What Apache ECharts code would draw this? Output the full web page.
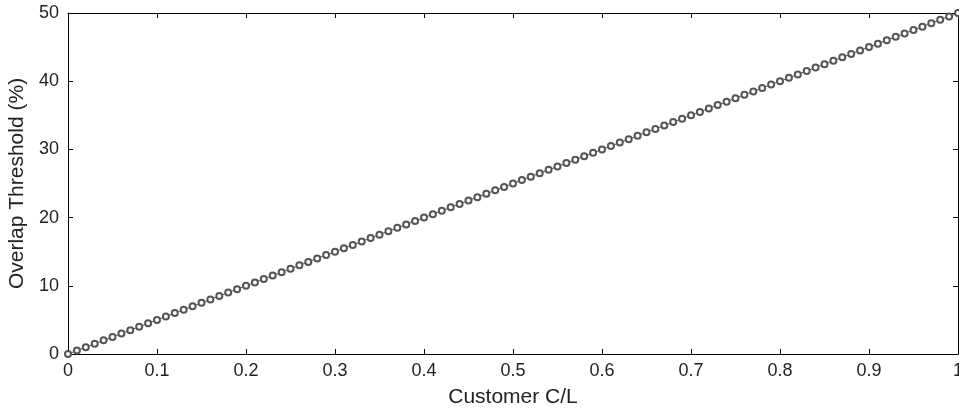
<!DOCTYPE html>
<html>
<head>
<meta charset="utf-8">
<script src="https://cdn.jsdelivr.net/npm/echarts@6/dist/echarts.min.js"></script>
<style>
  html, body { margin: 0; padding: 0; background: #fff; }
  #chart { width: 959px; height: 414px; }
</style>
</head>
<body>
<div id="chart"></div>
<script>
// customer C/L values (x)
const customerCL = [
  0.00, 0.01, 0.02, 0.03, 0.04, 0.05, 0.06, 0.07, 0.08, 0.09,
  0.10, 0.11, 0.12, 0.13, 0.14, 0.15, 0.16, 0.17, 0.18, 0.19,
  0.20, 0.21, 0.22, 0.23, 0.24, 0.25, 0.26, 0.27, 0.28, 0.29,
  0.30, 0.31, 0.32, 0.33, 0.34, 0.35, 0.36, 0.37, 0.38, 0.39,
  0.40, 0.41, 0.42, 0.43, 0.44, 0.45, 0.46, 0.47, 0.48, 0.49,
  0.50, 0.51, 0.52, 0.53, 0.54, 0.55, 0.56, 0.57, 0.58, 0.59,
  0.60, 0.61, 0.62, 0.63, 0.64, 0.65, 0.66, 0.67, 0.68, 0.69,
  0.70, 0.71, 0.72, 0.73, 0.74, 0.75, 0.76, 0.77, 0.78, 0.79,
  0.80, 0.81, 0.82, 0.83, 0.84, 0.85, 0.86, 0.87, 0.88, 0.89,
  0.90, 0.91, 0.92, 0.93, 0.94, 0.95, 0.96, 0.97, 0.98, 0.99,
  1.00
]
// overlap threshold in % (y)
const overlapThreshold = [
  0.0, 0.5, 1.0, 1.5, 2.0, 2.5, 3.0, 3.5, 4.0, 4.5,
  5.0, 5.5, 6.0, 6.5, 7.0, 7.5, 8.0, 8.5, 9.0, 9.5,
  10.0, 10.5, 11.0, 11.5, 12.0, 12.5, 13.0, 13.5, 14.0, 14.5,
  15.0, 15.5, 16.0, 16.5, 17.0, 17.5, 18.0, 18.5, 19.0, 19.5,
  20.0, 20.5, 21.0, 21.5, 22.0, 22.5, 23.0, 23.5, 24.0, 24.5,
  25.0, 25.5, 26.0, 26.5, 27.0, 27.5, 28.0, 28.5, 29.0, 29.5,
  30.0, 30.5, 31.0, 31.5, 32.0, 32.5, 33.0, 33.5, 34.0, 34.5,
  35.0, 35.5, 36.0, 36.5, 37.0, 37.5, 38.0, 38.5, 39.0, 39.5,
  40.0, 40.5, 41.0, 41.5, 42.0, 42.5, 43.0, 43.5, 44.0, 44.5,
  45.0, 45.5, 46.0, 46.5, 47.0, 47.5, 48.0, 48.5, 49.0, 49.5,
  50.0
]
const xTicks = [0, 0.1, 0.2, 0.3, 0.4, 0.5, 0.6, 0.7, 0.8, 0.9, 1]
const yTicks = [0, 10, 20, 30, 40, 50]

const font = 'Liberation Sans, Arial, sans-serif'
const axisColor = '#000'
const textColor = '#222'

const chart = echarts.init(document.getElementById('chart'))

const baseAxis = {
  type: 'value',
  axisLine: { show: true, onZero: false, lineStyle: { color: axisColor, width: 1 } },
  axisTick: { show: true, inside: true, length: 5, lineStyle: { color: axisColor } },
  splitLine: { show: false }
}

const option = {
  animation: false,
  grid: { left: 68, right: 1, top: 13, bottom: 60, outerBoundsMode: 'none', containLabel: false },
  xAxis: [
    {
      ...baseAxis,
      position: 'bottom',
      min: 0, max: 1, interval: 0.1,
      name: 'Customer C/L',
      nameLocation: 'middle',
      nameGap: 33,
      nameTextStyle: { fontFamily: font, fontSize: 21, color: textColor },
      axisLabel: {
        fontFamily: font, fontSize: 18, color: textColor, margin: 8,
        showMaxLabel: true,
        formatter: v => xTicks.includes(+v.toFixed(1)) ? String(+v.toFixed(1)) : ''
      }
    },
    {
      ...baseAxis,
      position: 'top',
      min: 0, max: 1, interval: 0.1,
      axisLabel: { show: false }
    }
  ],
  yAxis: [
    {
      ...baseAxis,
      position: 'left',
      min: 0, max: 50, interval: 10,
      name: 'Overlap Threshold (%)',
      nameLocation: 'middle',
      nameGap: 40,
      nameTextStyle: { fontFamily: font, fontSize: 21, color: textColor },
      axisLabel: {
        fontFamily: font, fontSize: 18, color: textColor, margin: 9,
        formatter: v => yTicks.includes(v) ? String(v) : ''
      }
    },
    {
      ...baseAxis,
      position: 'right',
      min: 0, max: 50, interval: 10,
      axisLabel: { show: false }
    }
  ],
  series: [
    {
      type: 'line',
      data: customerCL.map((x, i) => [x, overlapThreshold[i]]),
      symbol: 'emptyCircle',
      symbolSize: 6,
      showAllSymbol: true,
      lineStyle: { color: '#555', width: 1 },
      itemStyle: { color: '#555', borderColor: '#555', borderWidth: 0.8 }
    }
  ]
}

chart.setOption(option)
</script>
</body>
</html>
